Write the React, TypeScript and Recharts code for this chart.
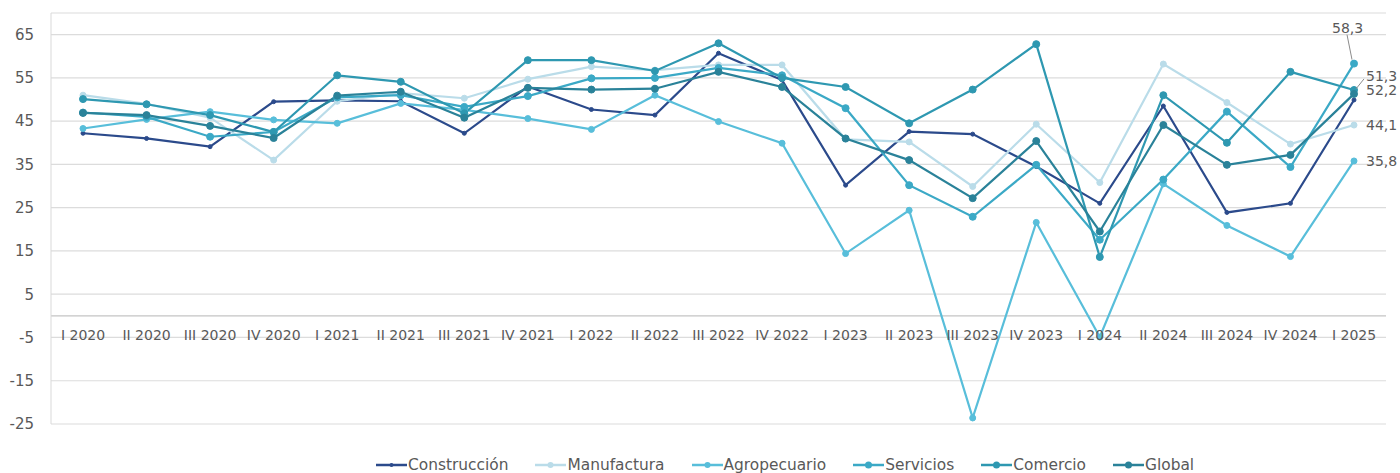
import { LineChart, Line, XAxis, YAxis, CartesianGrid, Legend, ReferenceLine, LabelList } from "recharts"

const quarters = [
  "I 2020", "II 2020", "III 2020", "IV 2020",
  "I 2021", "II 2021", "III 2021", "IV 2021",
  "I 2022", "II 2022", "III 2022", "IV 2022",
  "I 2023", "II 2023", "III 2023", "IV 2023",
  "I 2024", "II 2024", "III 2024", "IV 2024",
  "I 2025",
]

const construccion = [42.2, 41.0, 39.1, 49.5, 49.8, 49.6, 42.2, 53.0, 47.7, 46.4, 60.7, 54.5, 30.2, 42.6, 42.0, 34.5, 26.0, 48.5, 23.9, 26.0, 49.9]
const manufactura = [51.0, 49.0, 45.8, 36.0, 49.6, 51.5, 50.3, 54.7, 57.6, 56.8, 58.0, 58.0, 40.8, 40.2, 29.9, 44.3, 30.8, 58.2, 49.3, 39.7, 44.1]
const agropecuario = [43.3, 45.4, 47.2, 45.3, 44.5, 49.1, 47.6, 45.6, 43.1, 51.0, 44.9, 39.9, 14.4, 24.4, -23.6, 21.6, -4.9, 30.5, 20.9, 13.7, 35.8]
const servicios = [47.0, 46.0, 41.4, 42.5, 50.5, 51.0, 48.3, 50.8, 54.9, 55.0, 57.3, 55.6, 48.0, 30.2, 22.9, 34.9, 17.6, 31.5, 47.2, 34.4, 58.3]
const comercio = [50.1, 48.9, 46.4, 42.5, 55.6, 54.1, 46.8, 59.1, 59.1, 56.6, 63.0, 55.0, 52.9, 44.5, 52.3, 62.8, 13.6, 51.0, 40.0, 56.4, 52.2]
const global = [46.9, 46.4, 43.9, 41.1, 50.9, 51.8, 45.8, 52.7, 52.3, 52.5, 56.4, 52.9, 41.0, 36.0, 27.2, 40.4, 19.5, 44.1, 34.9, 37.2, 51.3]

const yTicks = [-25, -15, -5, 5, 15, 25, 35, 45, 55, 65]
const Y_MIN = -25
const Y_MAX = 70

const W = 1400
const H = 473
const TOP = 13
const X_AXIS_H = 1
const LEGEND_H = 48
const PLOT_BOTTOM = H - LEGEND_H - X_AXIS_H
const ZERO_Y = TOP + ((Y_MAX - 0) / (Y_MAX - Y_MIN)) * (PLOT_BOTTOM - TOP)

const FONT = "'DejaVu Sans', 'Liberation Sans', Arial, sans-serif"
const TEXT = "#595959"
const LAST = quarters.length - 1

const series = [
  { key: "construccion", name: "Construcción", color: "#2B4A8B", values: construccion, r: 2 },
  { key: "manufactura", name: "Manufactura", color: "#BADCE9", values: manufactura, r: 3 },
  { key: "agropecuario", name: "Agropecuario", color: "#58BEDA", values: agropecuario, r: 3 },
  { key: "servicios", name: "Servicios", color: "#3BA9C6", values: servicios, r: 3.5 },
  { key: "comercio", name: "Comercio", color: "#2E98B1", values: comercio, r: 3.5 },
  { key: "global", name: "Global", color: "#2A8299", values: global, r: 3.5 },
]

// where the end-of-series labels sit, relative to the last point
const endLabels: Record<string, { dx: number; dy: number; leader?: [number, number, number, number] }> = {
  manufactura: { dx: 12, dy: 0 },
  agropecuario: { dx: 12, dy: 0 },
  servicios: { dx: -22, dy: -36, leader: [-7, -29, -2, -4] },
  comercio: { dx: 12, dy: 0 },
  global: { dx: 12, dy: -18, leader: [10, -15, 2, -5] },
}

const data = quarters.map((q, i) => {
  const row: Record<string, string | number> = { q }
  series.forEach((s) => (row[s.key] = s.values[i]))
  return row
})

const makeEndLabel = (key: string) => (props: any) => {
  const cfg = endLabels[key]
  if (!cfg || props.index !== LAST) return null
  const { x, y, value } = props
  return (
    <g>
      {cfg.leader && (
        <line
          x1={x + cfg.leader[0]}
          y1={y + cfg.leader[1]}
          x2={x + cfg.leader[2]}
          y2={y + cfg.leader[3]}
          stroke="#8c8c8c"
          strokeWidth={1}
        />
      )}
      <text x={x + cfg.dx} y={y + cfg.dy} dy="0.35em" fontSize={14} fontFamily={FONT} fill={TEXT}>
        {String(value).replace(".", ",")}
      </text>
    </g>
  )
}

// category labels sit just under the zero line, as in the original
const XTick = (props: any) => {
  const { x, payload } = props
  return (
    <text x={x} y={ZERO_Y + 19} dy="0.35em" textAnchor="middle" fontSize={14} fontFamily={FONT} fill={TEXT}>
      {payload.value}
    </text>
  )
}

const LegendContent = () => (
  <div
    style={{
      height: LEGEND_H,
      boxSizing: "border-box",
      paddingTop: 32,
      paddingLeft: 376,
      display: "flex",
      gap: 27,
      fontFamily: FONT,
      fontSize: 15.4,
      lineHeight: "16px",
      color: TEXT,
      whiteSpace: "nowrap",
    }}
  >
    {series.map((s) => (
      <div key={s.key} style={{ display: "flex", alignItems: "center", height: 16 }}>
        <svg width={31} height={10} style={{ marginRight: 1 }}>
          <line x1={0} y1={5} x2={31} y2={5} stroke={s.color} strokeWidth={2.5} />
          <circle cx={15.5} cy={5} r={s.r} fill={s.color} />
        </svg>
        <span>{s.name}</span>
      </div>
    ))}
  </div>
)

export default function App() {
  return (
    <div>
      <style>{"body{margin:0;background:#fff}"}</style>
      <LineChart width={W} height={H} data={data} margin={{ top: TOP, right: 14, left: 0, bottom: 0 }}>
        <CartesianGrid vertical={false} stroke="#DCDCDC" strokeWidth={1.2} />
        <XAxis
          dataKey="q"
          height={X_AXIS_H}
          padding={{ left: 32, right: 32 }}
          axisLine={false}
          tickLine={false}
          tick={<XTick />}
          interval={0}
        />
        <YAxis
          width={51}
          domain={[Y_MIN, Y_MAX]}
          ticks={yTicks}
          interval={0}
          axisLine={{ stroke: "#D9D9D9" }}
          tickLine={false}
          tickMargin={11}
          tick={{ fontSize: 15, fill: TEXT, fontFamily: FONT }}
        />
        <ReferenceLine y={0} stroke="#C4C4C4" strokeWidth={1.2} />
        <Legend verticalAlign="bottom" content={<LegendContent />} />
        {series.map((s) => (
          <Line
            key={s.key}
            dataKey={s.key}
            name={s.name}
            type="linear"
            stroke={s.color}
            strokeWidth={2.2}
            dot={{ r: s.r, fill: s.color, stroke: s.color, strokeWidth: 1 }}
            activeDot={false}
            isAnimationActive={false}
          >
            <LabelList dataKey={s.key} content={makeEndLabel(s.key)} />
          </Line>
        ))}
      </LineChart>
    </div>
  )
}
